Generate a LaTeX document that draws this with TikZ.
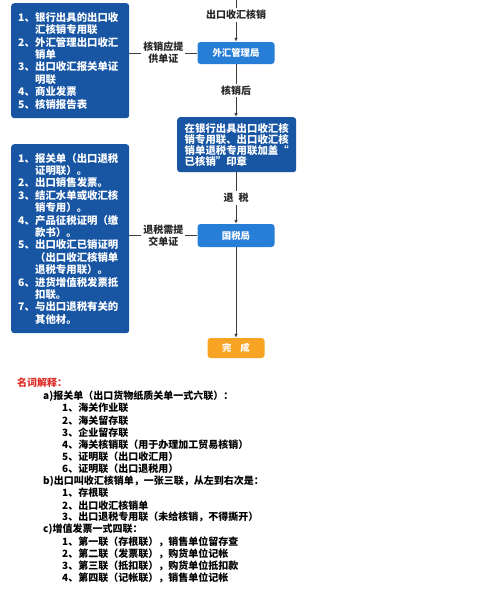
\documentclass[tikz,border=0pt]{standalone}
\usepackage{fontspec}
\setmainfont{Noto Sans CJK SC}
\usetikzlibrary{arrows.meta}
\definecolor{listblue}{RGB}{24,86,164}
\definecolor{officeblue}{RGB}{38,126,214}
\definecolor{doneorange}{RGB}{247,163,35}
\definecolor{notered}{RGB}{222,45,40}
\definecolor{flowgrey}{RGB}{60,60,60}
\newcommand\itm[2]{\makebox[17pt][l]{#1、}#2}
\newcommand\cnt[1]{\hspace*{17pt}#1}
\begin{document}
\begin{tikzpicture}[x=1pt,y=-1pt,
listbox/.style={fill=listblue,text=white,rounded corners=3pt,anchor=north west,align=left,
  text width=104pt,inner xsep=7pt,font=\bfseries\fontsize{10.4}{12.4}\selectfont},
office/.style={fill=officeblue,text=white,rounded corners=3pt,minimum width=77pt,
  minimum height=22pt,font=\bfseries\fontsize{9.4}{11}\selectfont},
lbl/.style={fill=white,inner sep=2pt,align=center,text=black!85,font=\bfseries\fontsize{10}{12}\selectfont},
link/.style={draw=flowgrey,line width=0.8pt},
flow/.style={link,-{Latex[length=4pt,width=3.5pt]}},
note/.style={anchor=west,inner sep=0pt,font=\bfseries\fontsize{10}{12}\selectfont}]
\fill[white] (0,0) rectangle (488,600);
\useasboundingbox (0,0) rectangle (488,600);
\node[listbox,minimum height=115pt] (docs1) at (11,3) {\itm{1}{银行出具的出口收}\\ \cnt{汇核销专用联}\\
\itm{2}{外汇管理出口收汇}\\ \cnt{销单}\\ \itm{3}{出口收汇报关单证}\\ \cnt{明联}\\
\itm{4}{商业发票}\\ \itm{5}{核销报告表}};
\node[listbox,minimum height=189pt] (docs2) at (11,144) {\itm{1}{报关单（出口退税}\\ \cnt{证明联）。}\\
\itm{2}{出口销售发票。}\\ \itm{3}{结汇水单或收汇核}\\ \cnt{销专用）。}\\
\itm{4}{产品征税证明（缴}\\ \cnt{款书）。}\\ \itm{5}{出口收汇已销证明}\\ \cnt{（出口收汇核销单}\\
\cnt{退税专用联）。}\\ \itm{6}{进货增值税发票抵}\\ \cnt{扣联。}\\ \itm{7}{与出口退税有关的}\\ \cnt{其他材。}};
\node[listbox,minimum height=55pt,inner xsep=7.5pt,font=\bfseries\fontsize{10.4}{11}\selectfont] (stamp) at (177,117)
{在银行出具出口收汇核\\ 销专用联、出口收汇核\\ 销单退税专用联加盖“\\ 已核销”印章};
\node[office] (safe) at (236,53) {外汇管理局};
\node[office,minimum height=23pt] (tax) at (236,235.5) {国税局};
\node[office,fill=doneorange,minimum width=57pt,minimum height=20pt] (done) at (236,348) {完\hspace{9pt}成};
\coordinate (start) at (236,0);
\draw[flow] (start) -- node[lbl,pos=0.36] {出口收汇核销} (safe);
\draw[flow] (safe) -- node[lbl] {核销后} (safe |- stamp.north);
\draw[flow] (stamp.south -| safe) -- node[lbl] {退\hspace{5pt}税} (tax);
\draw[flow] (tax) -- (done);
\draw[link] (safe) -- node[lbl] {核销应提\\供单证} (safe -| docs1.east);
\draw[link] (tax) -- node[lbl] {退税需提\\交单证} (tax -| docs2.east);
\node[note,text=notered] (title) at (17,383) {名词解释：};
\foreach \x/\t [count=\i] in {
43/a)报关单（出口货物纸质关单一式六联）：, 62/1、海关作业联, 62/2、海关留存联, 62/3、企业留存联,
62/4、海关核销联（用于办理加工贸易核销）, 62/5、证明联（出口收汇用）, 62/6、证明联（出口退税用）,
43/b)出口叫收汇核销单，一张三联，从左到右次是：, 62/1、存根联, 62/2、出口收汇核销单,
62/3、出口退税专用联（未给核销，不得撕开）, 43/c)增值发票一式四联：,
62/1、第一联（存根联），销售单位留存查, 62/2、第二联（发票联），购货单位记帐,
62/3、第三联（抵扣联），购货单位抵扣款, 62/4、第四联（记帐联），销售单位记帐} {
\node[note] (note\i) at (\x,383.9+12.13*\i) {\t};
}
\end{tikzpicture}
\end{document}
